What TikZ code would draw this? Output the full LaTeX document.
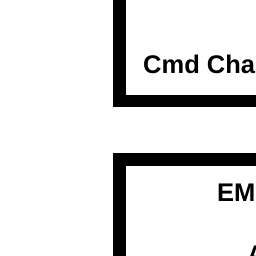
\documentclass[tikz,border=0pt]{standalone}
\usepackage{fontspec}
\setmainfont{Liberation Sans}
\begin{document}
\begin{tikzpicture}[x=1pt,y=1pt,
  boxline/.style={draw=black,line width=12.5pt,line join=miter},
  lbl/.style={font=\fontsize{25.5}{30}\selectfont\bfseries,inner sep=0pt,anchor=base west}]
\useasboundingbox (0,0) rectangle (256,256);
\clip (0,0) rectangle (256,256);
\fill[white] (0,0) rectangle (256,256);
\draw[boxline] (119.5,420) -- (119.5,155) -- (420,155);
\draw[boxline] (420,96.5) -- (119.5,96.5) -- (119.5,-200);
\node[lbl] (cmd) at (143,182.5) {Cmd Cha};
\node[lbl] (em) at (217,54) {EM};
\node[lbl] (a) at (247,-7) {A};
\end{tikzpicture}
\end{document}
